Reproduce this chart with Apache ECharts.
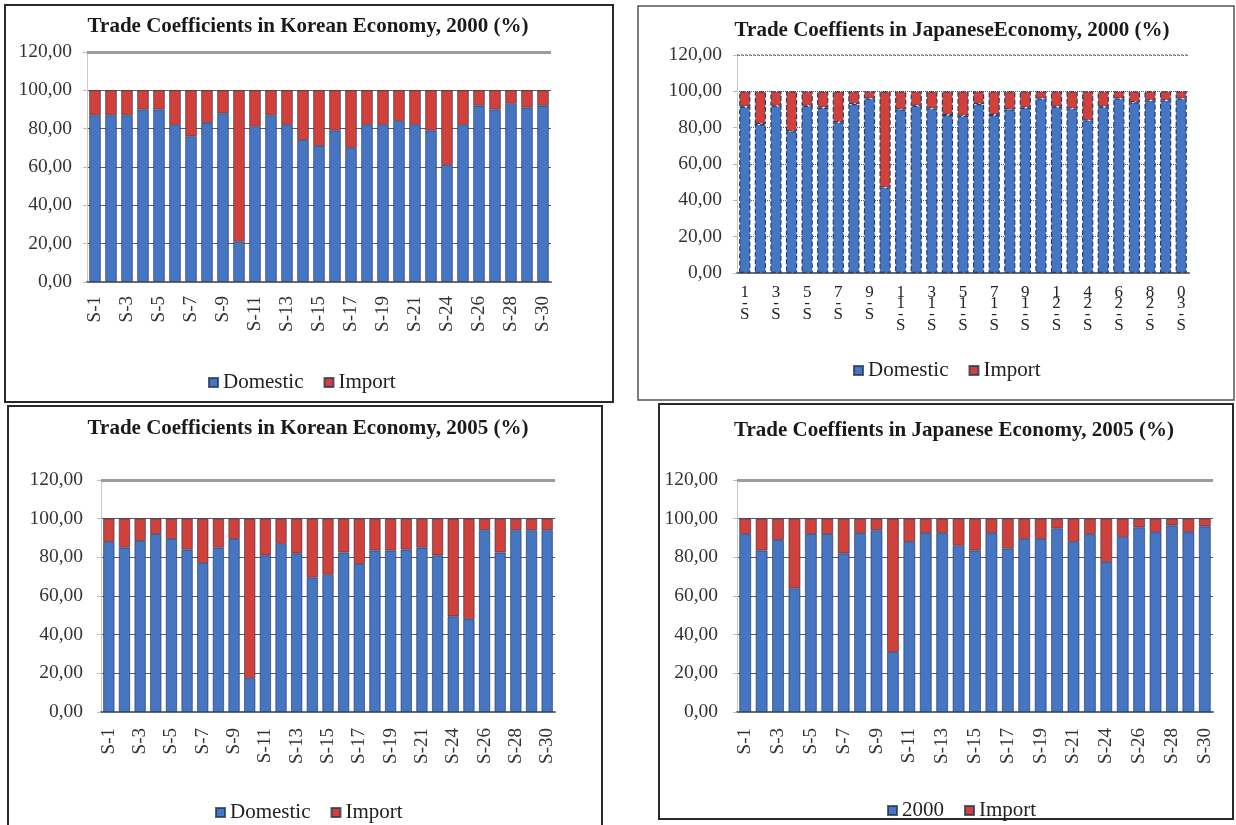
<!DOCTYPE html>
<html>
<head>
<meta charset="utf-8">
<title>Trade Coefficients in Korean and Japanese Economy</title>
<script src="https://cdn.jsdelivr.net/npm/echarts@6/dist/echarts.min.js"></script>
<style>
  html, body { margin: 0; padding: 0; background: #ffffff; }
  #chart { width: 1236px; height: 825px; }
</style>
</head>
<body>
<div id="chart"></div>
<script>
// Sectors (S-23 is not part of the classification)
const categories = [
  'S-1', 'S-2', 'S-3', 'S-4', 'S-5', 'S-6', 'S-7', 'S-8', 'S-9', 'S-10',
  'S-11', 'S-12', 'S-13', 'S-14', 'S-15', 'S-16', 'S-17', 'S-18', 'S-19', 'S-20',
  'S-21', 'S-22', 'S-24', 'S-25', 'S-26', 'S-27', 'S-28', 'S-29', 'S-30'
];

const yTicks = [0, 20, 40, 60, 80, 100, 120];

// Korea, 2000 (%)
const korea2000Domestic = [87, 87, 87, 90, 90, 82, 76, 83, 88, 21, 81, 87, 82, 74, 71, 79, 70, 82, 82, 84, 82, 79, 61, 82, 92, 90, 93, 91, 92];
const korea2000Import   = [13, 13, 13, 10, 10, 18, 24, 17, 12, 79, 19, 13, 18, 26, 29, 21, 30, 18, 18, 16, 18, 21, 39, 18, 8, 10, 7, 9, 8];

// Japan, 2000 (%)
const japan2000Domestic = [91.5, 82, 92, 78, 92, 91, 83, 93, 96, 47, 90, 92, 90.5, 87, 86.5, 93, 87, 90, 91, 96, 91.5, 90.5, 84, 91.5, 96, 94, 95, 95, 96];
const japan2000Import   = [8.5, 18, 8, 22, 8, 9, 17, 7, 4, 53, 10, 8, 9.5, 13, 13.5, 7, 13, 10, 9, 4, 8.5, 9.5, 16, 8.5, 4, 6, 5, 5, 4];

// Korea, 2005 (%)
const korea2005Domestic = [88, 85, 88.5, 92, 89.5, 84, 77, 85, 89.5, 17.5, 81, 87, 82, 69.5, 71, 82.5, 76.5, 83.5, 83.5, 84, 85, 81, 49.5, 48, 94, 82.5, 94, 94, 94];
const korea2005Import   = [12, 15, 11.5, 8, 10.5, 16, 23, 15, 10.5, 82.5, 19, 13, 18, 30.5, 29, 17.5, 23.5, 16.5, 16.5, 16, 15, 19, 50.5, 52, 6, 17.5, 6, 6, 6];

// Japan, 2005 (%)
const japan2005Domestic = [92, 83.5, 89, 64, 92, 92, 82, 92.5, 94, 31, 88, 92.5, 92.5, 86, 83.5, 92.5, 84.5, 89.5, 89.5, 95, 88, 92, 77.5, 90.5, 95.5, 93, 96.5, 93, 96];
const japan2005Import   = [8, 16.5, 11, 36, 8, 8, 18, 7.5, 6, 69, 12, 7.5, 7.5, 14, 16.5, 7.5, 15.5, 10.5, 10.5, 5, 12, 8, 22.5, 9.5, 4.5, 7, 3.5, 7, 4];

const BLUE = '#4675c2';
const RED = '#d0413c';
const SERIF = '"Liberation Serif", "Times New Roman", serif';

const panels = [
  { title: 'Trade Coefficients in Korean Economy, 2000 (%)', titleX: 303, titleY: 11,
    grid: { left: 87, top: 52, width: 464, height: 230 },
    labelMargin: 15, xMargin: 14, stacked: false, dotted: false,
    names: ['Domestic', 'Import'], domestic: korea2000Domestic, imports: korea2000Import,
    legend: { left: 203, top: 367 } },
  { title: 'Trade Coeffients in JapaneseEconomy, 2000 (%)', titleX: 947, titleY: 15,
    grid: { left: 737, top: 55, width: 452, height: 218 },
    labelMargin: 15, xMargin: 14, stacked: true, dotted: true,
    names: ['Domestic', 'Import'], domestic: japan2000Domestic, imports: japan2000Import,
    legend: { left: 848, top: 355 } },
  { title: 'Trade Coefficients in Korean Economy, 2005 (%)', titleX: 303, titleY: 413,
    grid: { left: 101, top: 480, width: 454, height: 232 },
    labelMargin: 18, xMargin: 16, stacked: false, dotted: false,
    names: ['Domestic', 'Import'], domestic: korea2005Domestic, imports: korea2005Import,
    legend: { left: 210, top: 797 } },
  { title: 'Trade Coeffients in Japanese Economy, 2005 (%)', titleX: 949, titleY: 415,
    grid: { left: 737, top: 480, width: 476, height: 232 },
    labelMargin: 19, xMargin: 16, stacked: false, dotted: false,
    names: ['2000', 'Import'], domestic: japan2005Domestic, imports: japan2005Import,
    legend: { left: 882, top: 795 } }
];

const fmtValue = v => v.toFixed(2).replace('.', ',');
// Characters drawn upright, one per line, last character on top
const stackChars = s => s.split('').reverse().join('\n');

const option = {
  backgroundColor: '#ffffff',
  animation: false,
  title: [], legend: [], grid: [], xAxis: [], yAxis: [], series: [],
  graphic: [
    { type: 'rect', shape: { x: 5, y: 5, width: 608, height: 397 }, style: { fill: 'none', stroke: '#2a2a2a', lineWidth: 2 } },
    { type: 'rect', shape: { x: 638, y: 6, width: 596, height: 394 }, style: { fill: 'none', stroke: '#555555', lineWidth: 1.5 } },
    { type: 'rect', shape: { x: 8, y: 406, width: 594, height: 422 }, style: { fill: 'none', stroke: '#2a2a2a', lineWidth: 2 } },
    { type: 'rect', shape: { x: 659, y: 404, width: 574, height: 415 }, style: { fill: 'none', stroke: '#2a2a2a', lineWidth: 2 } }
  ]
};

panels.forEach((p, i) => {
  option.title.push({
    text: p.title, left: p.titleX, top: p.titleY, textAlign: 'center',
    textStyle: { fontFamily: SERIF, fontWeight: 'bold', fontSize: 21, color: '#1a1a1a' }
  });
  option.legend.push({
    data: p.names, left: p.legend.left, top: p.legend.top,
    icon: 'rect', itemWidth: 9, itemHeight: 9, itemGap: 20,
    selectedMode: false,
    textStyle: { fontFamily: SERIF, fontSize: 21, color: '#222222' }
  });
  option.grid.push(p.grid);
  option.xAxis.push({
    type: 'category', gridIndex: i, data: categories,
    axisLine: { lineStyle: { color: '#6b6b6b', width: 2 } },
    axisTick: { show: false },
    axisLabel: p.stacked ? {
      interval: 1, rotate: 0, margin: p.xMargin,
      fontFamily: SERIF, fontSize: 17, color: '#222222', lineHeight: 11,
      formatter: stackChars
    } : {
      interval: 1, rotate: 90, margin: p.xMargin,
      fontFamily: SERIF, fontSize: 19, color: '#333333'
    }
  });
  option.yAxis.push({
    type: 'value', gridIndex: i, min: yTicks[0], max: yTicks[yTicks.length - 1], interval: 20,
    axisLine: { show: true, lineStyle: { color: '#c8c8c8', width: 1 } },
    axisTick: { show: true, length: 4, lineStyle: { color: '#bdbdbd' } },
    axisLabel: {
      margin: p.labelMargin, fontFamily: SERIF, fontSize: 19.5, color: '#333333',
      formatter: fmtValue
    },
    splitLine: { show: true, lineStyle: { color: '#5a5a5a', width: 1, type: p.dotted ? 'dotted' : 'solid' } }
  });
  const border = p.dotted
    ? { borderColor: '#23406b', borderWidth: 1.2, borderType: 'dashed' }
    : { borderColor: 'rgba(28,48,85,0.75)', borderWidth: 0.8 };
  option.series.push({
    name: p.names[0], type: 'bar', stack: 'total' + i,
    xAxisIndex: i, yAxisIndex: i, data: p.domestic,
    barCategoryGap: '28%',
    itemStyle: Object.assign({ color: BLUE }, border),
    markLine: {
      silent: true, symbol: 'none', label: { show: false },
      lineStyle: { color: '#9c9c9c', width: p.dotted ? 2 : 3, type: p.dotted ? 'dotted' : 'solid' },
      data: [{ yAxis: yTicks[yTicks.length - 1] }]
    }
  });
  option.series.push({
    name: p.names[1], type: 'bar', stack: 'total' + i,
    xAxisIndex: i, yAxisIndex: i, data: p.imports,
    barCategoryGap: '28%',
    itemStyle: Object.assign({ color: RED }, border)
  });
});

const chart = echarts.init(document.getElementById('chart'), null, { renderer: 'canvas' });
chart.setOption(option);
</script>
</body>
</html>
